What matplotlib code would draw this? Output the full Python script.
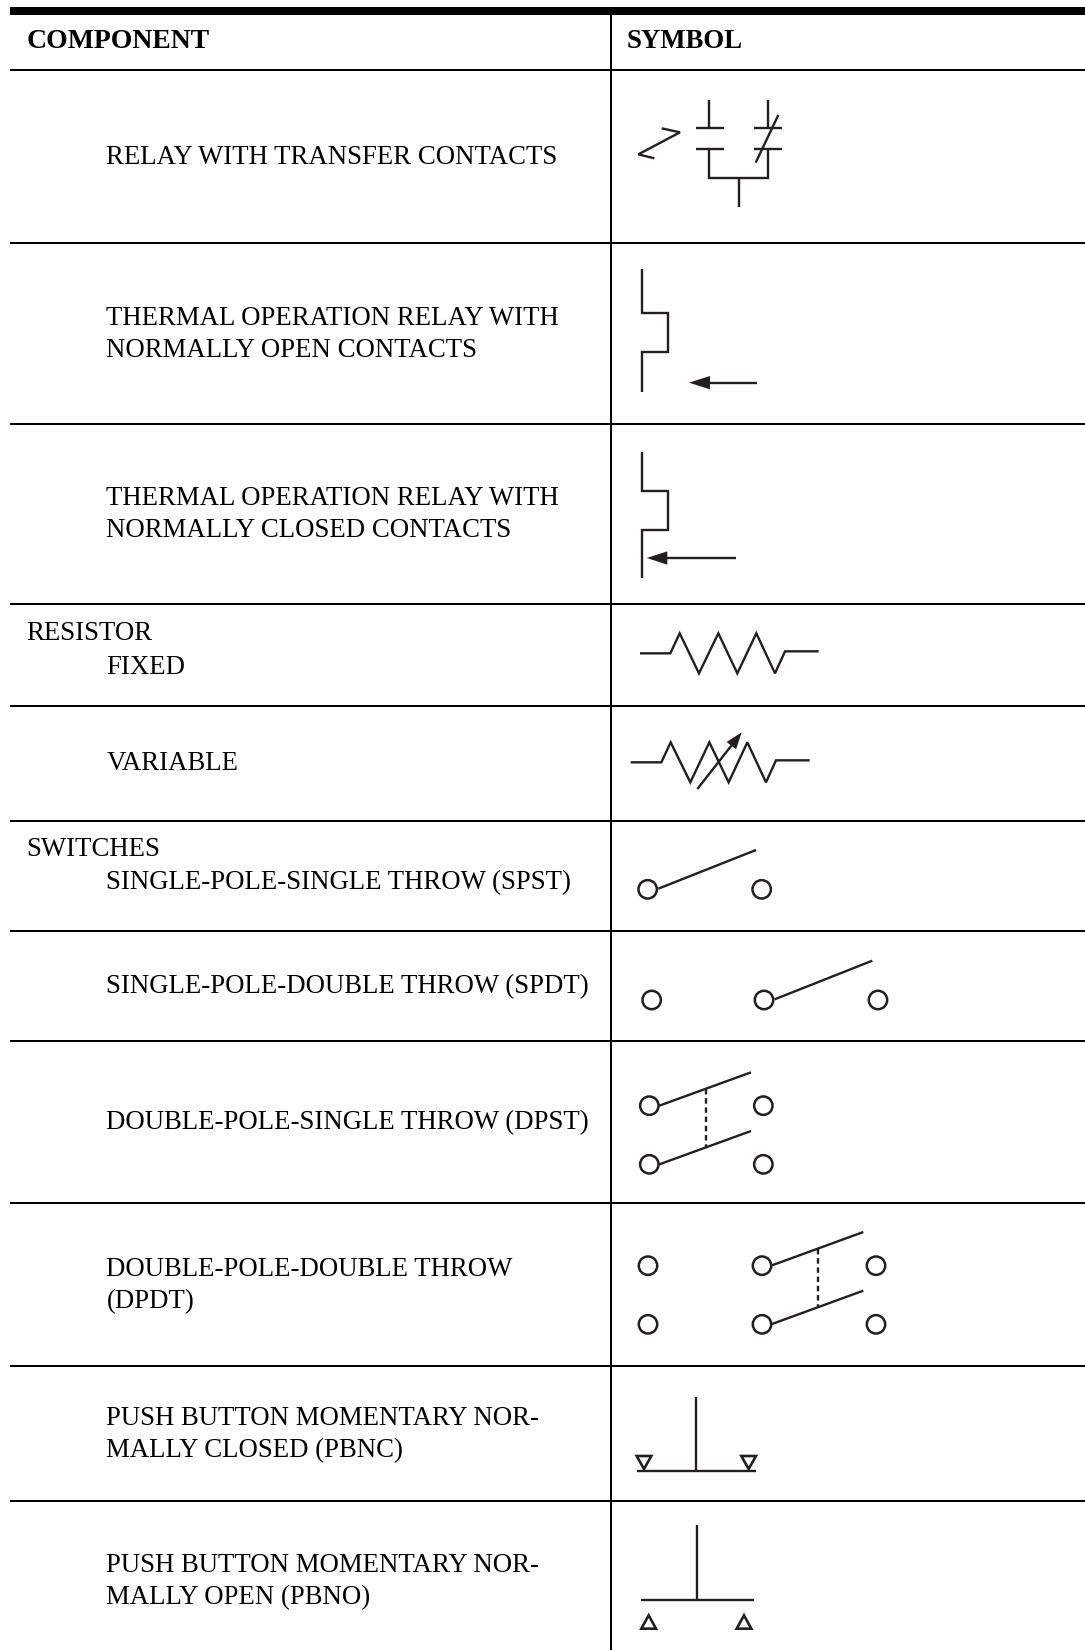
import numpy as np
import matplotlib
matplotlib.use('Agg')
import matplotlib.pyplot as plt
from matplotlib.patches import Circle, Polygon

header_left = 'COMPONENT'
header_right = 'SYMBOL'

# text, x, baseline
labels = [
    ('RELAY WITH TRANSFER CONTACTS', 106.5, 164.5),
    ('THERMAL OPERATION RELAY WITH', 106.5, 325),
    ('NORMALLY OPEN CONTACTS', 106.5, 357),
    ('THERMAL OPERATION RELAY WITH', 106.5, 505),
    ('NORMALLY CLOSED CONTACTS', 106.5, 537),
    ('RESISTOR', 26.5, 640),
    ('FIXED', 106.5, 673.5),
    ('VARIABLE', 106.5, 770.5),
    ('SWITCHES', 26.5, 856.5),
    ('SINGLE-POLE-SINGLE THROW (SPST)', 106.5, 889),
    ('SINGLE-POLE-DOUBLE THROW (SPDT)', 106.5, 993),
    ('DOUBLE-POLE-SINGLE THROW (DPST)', 106.5, 1129),
    ('DOUBLE-POLE-DOUBLE THROW', 106.5, 1276),
    ('(DPDT)', 106.5, 1308),
    ('PUSH BUTTON MOMENTARY NOR-', 106.5, 1425),
    ('MALLY CLOSED (PBNC)', 106.5, 1457),
    ('PUSH BUTTON MOMENTARY NOR-', 106.5, 1571.5),
    ('MALLY OPEN (PBNO)', 106.5, 1604),
]
row_rules = [69.7, 242.7, 424.3, 604, 705.7, 820.7, 930.7, 1040.7, 1202.7, 1365.7, 1500.7]

ink = '#231f20'
fig = plt.figure(figsize=(10.85, 16.5), dpi=100)
ax = fig.add_axes([0, 0, 1, 1])
ax.set_xlim(0, 1085)
ax.set_ylim(1650, 0)
ax.axis('off')

# table frame
ax.fill_between([10, 1085], 6.7, 14.7, color='black', lw=0)
ax.hlines(row_rules, 10, 1085, color='black', lw=1.45)
ax.vlines(611.3, 14, 1650, color='black', lw=1.45)

ax.text(26.5, 48.3, header_left, family='Liberation Serif', weight='bold', fontsize=20, color='black')
ax.text(627, 48.3, header_right, family='Liberation Serif', weight='bold', fontsize=19.3, color='black')
for txt, x, y in labels:
    ax.text(x, y, txt, family='Liberation Serif', fontsize=19.3, color='black')


def px(origin, pts):
    return np.array(pts, dtype=float)/3 + np.array(origin)


def line(origin, pts, **kw):
    p = px(origin, pts)
    ax.plot(p[:, 0], p[:, 1], color=ink, lw=1.7, solid_capstyle='butt',
            solid_joinstyle='miter', dash_capstyle='butt', **kw)


def ring(origin, pts):
    for c in px(origin, pts):
        ax.add_patch(Circle(c, 9.2, fc='none', ec=ink, lw=1.8))


def arrow(origin, tail, tip, base, half):
    line(origin, [tail, base])
    t, b = np.array(tip, dtype=float), np.array(base, dtype=float)
    d = (t - b)/np.hypot(*(t - b))
    n = np.array([-d[1], d[0]])*half
    ax.add_patch(Polygon(px(origin, [t, b + n, b - n]), fc=ink, ec='none'))


def tri(origin, pts):
    ax.add_patch(Polygon(px(origin, pts), closed=True, fc='none', ec=ink, lw=1.9, joinstyle='miter'))


# relay with transfer contacts
o = (610, 80)
line(o, [(155, 145), (210, 157), (85, 223), (133, 235)])
line(o, [(298, 60), (298, 145)])
line(o, [(257, 145), (341, 145)])
line(o, [(257, 206), (341, 206)])
line(o, [(298, 206), (298, 294), (473, 294), (473, 206)])
line(o, [(473, 60), (473, 145)])
line(o, [(432, 145), (516, 145)])
line(o, [(432, 206), (516, 206)])
line(o, [(505, 105), (437, 248)])
line(o, [(388, 294), (388, 382)])

# thermal relays
line(o, [(97, 568), (97, 700), (174, 700), (174, 817), (97, 817), (97, 937)])
arrow(o, (440, 908), (237, 908), (300, 908), 20)
line(o, [(97, 1117), (97, 1233), (174, 1233), (174, 1350), (97, 1350), (97, 1493)])
arrow(o, (377, 1434), (110, 1434), (172, 1434), 20)

# resistors
o = (610, 610)
line(o, [(90, 130), (181, 130), (209, 70), (267, 190), (325, 70), (382, 190),
         (439, 70), (495, 190), (525, 124), (626, 124)])
line(o, [(62, 457), (154, 457), (182, 397), (241, 517), (298, 397), (356, 517),
         (412, 397), (468, 517), (498, 451), (599, 451)])
arrow(o, (262, 537), (395, 367), (364, 407), 18)

# spst, spdt
ring(o, [(113, 838), (455, 838)])
line(o, [(145, 836), (438, 720)])
ring(o, [(125, 1170), (462, 1170), (804, 1170)])
line(o, [(494, 1168), (787, 1052)])

# dpst, dpdt
o = (610, 1030)
ring(o, [(118, 227), (460, 227), (118, 403), (460, 403)])
line(o, [(148, 227), (423, 127)])
line(o, [(148, 403), (423, 303)])
line(o, [(288, 177), (288, 350)], linestyle=(0, (2.3, 1.6)))
ring(o, [(114, 707), (456, 707), (798, 707), (114, 883), (456, 883), (798, 883)])
line(o, [(486, 706), (760, 606)])
line(o, [(486, 882), (760, 782)])
line(o, [(625, 656), (625, 830)], linestyle=(0, (2.3, 1.6)))

# push buttons
o = (610, 1360)
line(o, [(258, 110), (258, 333)])
line(o, [(80, 333), (437, 333)])
tri(o, [(80, 288), (124, 288), (102, 327)])
tri(o, [(394, 288), (438, 288), (416, 327)])
line(o, [(262, 496), (262, 720)])
line(o, [(92, 720), (433, 720)])
tri(o, [(116, 766), (94, 806), (138, 806)])
tri(o, [(402, 766), (380, 806), (424, 806)])

fig.savefig('out.png', dpi=100, facecolor='white')
